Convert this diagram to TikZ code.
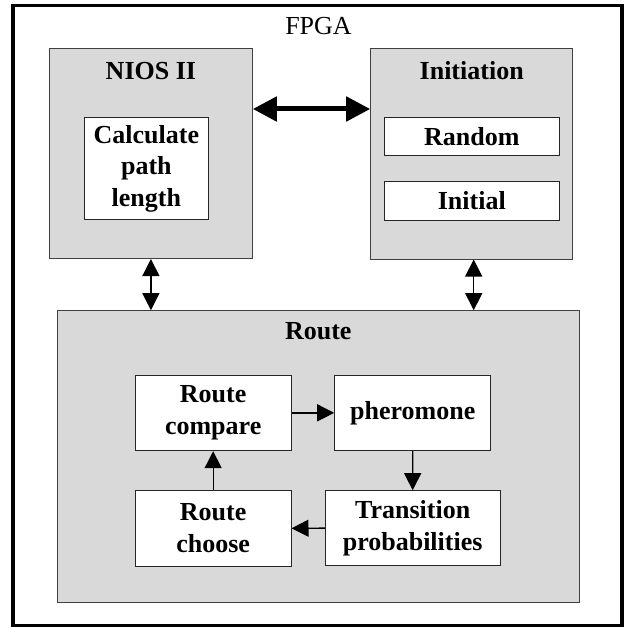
\documentclass[tikz,border=0pt]{standalone}
\usepackage{fontspec}
\setmainfont{Liberation Serif}
\usetikzlibrary{arrows.meta}
\definecolor{boxgray}{RGB}{217,217,217}
\definecolor{edgegray}{RGB}{64,64,64}
\begin{document}
\begin{tikzpicture}[x=1pt,y=-1pt,
  graybox/.style={draw=edgegray, fill=boxgray, line width=1pt, inner sep=0pt},
  whitebox/.style={draw=black!85, fill=white, line width=1pt, inner sep=0pt, align=center, font=\fontsize{26}{31.5}\selectfont\bfseries},
  boxtitle/.style={anchor=base, inner sep=0pt, font=\fontsize{26}{31.5}\selectfont\bfseries},
  link/.style={line width=1.3pt, -{Triangle[length=17pt,width=17pt]}},
  dlink/.style={line width=1.3pt, {Triangle[length=17pt,width=17pt]}-{Triangle[length=17pt,width=17pt]}},
  bigdlink/.style={line width=5pt, {Triangle[length=24pt,width=24pt]}-{Triangle[length=24pt,width=24pt]}}]
\useasboundingbox (0,0) rectangle (628,628);
\fill[white] (0,0) rectangle (628,628);
% outer FPGA frame
\node[draw, line width=3.5pt, minimum width=609pt, minimum height=619.8pt, inner sep=0pt] (fpga) at (317.5,315.6) {};
\node[anchor=base, inner sep=0pt, font=\fontsize{26}{31.5}\selectfont] (fpgalabel) at (318.5,35) {FPGA};
% NIOS II
\node[graybox, minimum width=202.8pt, minimum height=210pt] (nios) at (150.9,153.5) {};
\node[boxtitle] (niostitle) at (150.9,79.3) {NIOS II};
\node[whitebox, minimum width=124.7pt, minimum height=101.3pt] (calc) at (146.35,168.35) {Calculate\\path\\length};
% Initiation
\node[graybox, minimum width=202pt, minimum height=210pt] (init) at (471.7,154) {};
\node[boxtitle] (inittitle) at (471.7,80) {Initiation};
\node[whitebox, minimum width=175pt, minimum height=38pt] (random) at (471.8,136.7) {Random};
\node[whitebox, minimum width=175pt, minimum height=38pt] (initial) at (471.8,201) {Initial};
% Route
\node[graybox, minimum width=522pt, minimum height=292pt] (route) at (318.3,456.7) {};
\node[boxtitle] (routetitle) at (318.3,339.3) {Route};
\node[whitebox, minimum width=155.7pt, minimum height=75.7pt] (compare) at (213.15,412.85) {Route\\compare};
\node[whitebox, minimum width=156pt, minimum height=75.7pt] (pheromone) at (412.7,412.85) {pheromone};
\node[whitebox, minimum width=155.7pt, minimum height=75.3pt] (choose) at (213.15,528.35) {Route\\choose};
\node[whitebox, minimum width=174.7pt, minimum height=74.8pt] (transition) at (412.65,528.1) {Transition\\probabilities};
% connectors
\coordinate (bi) at (0,109);
\draw[bigdlink] (nios.east |- bi) -- (init.west |- bi);
\draw[dlink] (nios.south) -- (nios.south |- route.north);
\draw[dlink] ([xshift=2pt]init.south) -- ([xshift=2pt]init.south |- route.north);
\draw[link] (compare.east) -- (pheromone.west);
\draw[link] (pheromone.south) -- (transition.north);
\draw[link] (transition.west) -- (choose.east);
\draw[link] (choose.north) -- (compare.south);
\end{tikzpicture}
\end{document}
